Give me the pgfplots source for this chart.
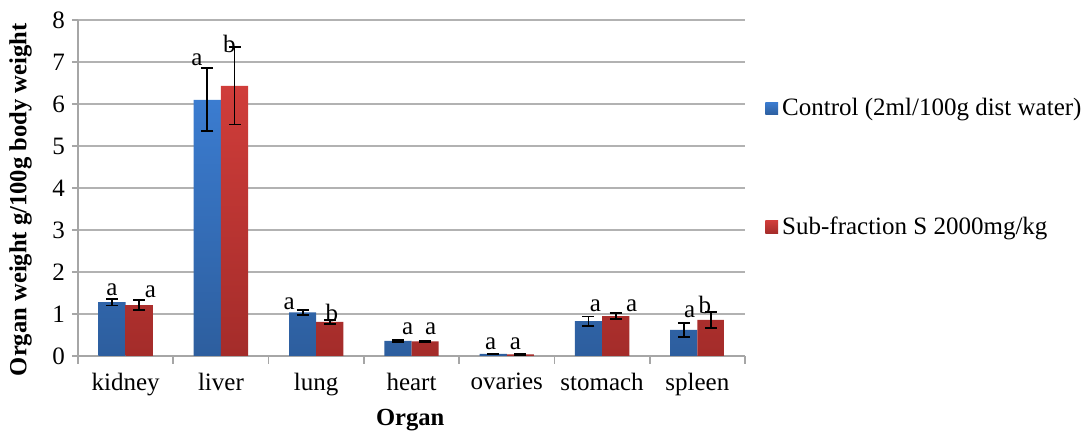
\documentclass[border=0pt]{standalone}
\usepackage{pgfplots}
\pgfplotsset{compat=1.18}
\usepackage{fontspec}
\setmainfont{Liberation Serif}
\definecolor{bluetop}{HTML}{3B7CD0}
\definecolor{bluebot}{HTML}{2D5E9E}
\definecolor{redtop}{HTML}{D03D3A}
\definecolor{redbot}{HTML}{A42C2A}
\begin{document}
\begin{tikzpicture}
\begin{axis}[
  name=ax,
  scale only axis,
  width=333.5pt, height=168pt,
  ybar=0pt, bar width=13.6pt,
  xmin=-0.5, xmax=6.5,
  ymin=0, ymax=8,
  ytick={0,1,...,8},
  xtick={0,1,2,3,4,5,6},
  xticklabels={kidney,liver,lung,heart,ovaries,stomach,spleen},
  major x tick style={draw=none},
  minor xtick={-0.5,0.5,1.5,2.5,3.5,4.5,5.5,6.5},
  minor tick length=4pt,
  tick align=outside,
  major tick length=3pt,
  axis x line*=bottom, axis y line*=left,
  axis line style={gray!70, line width=0.8pt, -},
  tick style={gray!70, line width=0.8pt},
  ymajorgrids, grid style={gray!60, line width=0.8pt},
  /pgf/number format/assume math mode=true,
  tick label style={font=\fontsize{12.5}{14}\selectfont},
  xticklabel style={yshift=-2pt},
  xlabel={\textbf{Organ}},
  ylabel={\textbf{Organ weight g/100g body weight}},
  label style={font=\fontsize{12.3}{14}\selectfont},
  xlabel style={at={(axis description cs:0.498,0)}, anchor=center, yshift=-32pt},
  ylabel style={at={(axis description cs:-0.086,0.465)}, anchor=center, rotate=0},
  legend style={draw=none, fill=none, at={(1.03,0.56)}, anchor=west,
    row sep=45pt, font=\fontsize{12.5}{14}\selectfont, inner sep=0pt},
  legend cell align=left,
  legend image code/.code={\path[#1] (0pt,-3.2pt) rectangle (6.4pt,3.2pt);},
  error bars/error bar style={black, line width=0.9pt},
  error bars/error mark options={black, line width=0.9pt, rotate=90, mark size=3pt},
]
\addplot[draw=none, top color=bluetop, bottom color=bluebot,
  error bars/.cd, y dir=both, y explicit]
  coordinates {(0,1.28) +- (0,0.08) (1,6.10) +- (0,0.75) (2,1.04) +- (0,0.06) (3,0.36) +- (0,0.02) (4,0.05) +- (0,0.01) (5,0.83) +- (0,0.11) (6,0.62) +- (0,0.17)};
\addplot[draw=none, top color=redtop, bottom color=redbot,
  error bars/.cd, y dir=both, y explicit]
  coordinates {(0,1.21) +- (0,0.12) (1,6.43) +- (0,0.92) (2,0.81) +- (0,0.04) (3,0.35) +- (0,0.02) (4,0.04) +- (0,0.01) (5,0.95) +- (0,0.07) (6,0.86) +- (0,0.19)};
\legend{Control (2ml/100g dist water), Sub-fraction S 2000mg/kg}
\begin{scope}[every node/.style={font=\fontsize{12.5}{14}\selectfont, inner sep=0pt}]
\node at (axis cs:-0.145,1.57) {a};
\node at (axis cs:0.26,1.53) {a};
\node at (axis cs:0.747,7.06) {a};
\node at (axis cs:1.089,7.44) {b};
\node at (axis cs:1.716,1.24) {a};
\node at (axis cs:2.164,1.03) {b};
\node at (axis cs:2.96,0.64) {a};
\node at (axis cs:3.2,0.64) {a};
\node at (axis cs:3.83,0.29) {a};
\node at (axis cs:4.09,0.29) {a};
\node at (axis cs:4.93,1.19) {a};
\node at (axis cs:5.31,1.19) {a};
\node at (axis cs:5.92,1.05) {a};
\node at (axis cs:6.08,1.21) {b};
\end{scope}
\end{axis}
\pgfresetboundingbox
\path[use as bounding box] (ax.south west) ++(-39pt,-38pt) rectangle ++(542.5pt,216pt);
\end{tikzpicture}
\end{document}
